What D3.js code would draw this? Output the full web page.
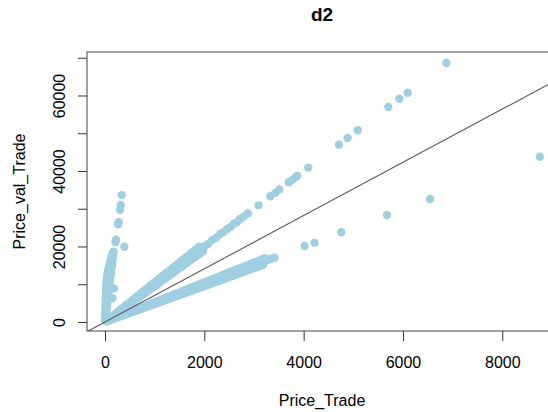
<!DOCTYPE html>
<html lang="en">
<head>
  <meta charset="UTF-8">
  <title>d2</title>
  <script src="https://d3js.org/d3.v7.min.js"></script>
  <style>
    body { margin: 0; background: #fff; }
    svg { display: block; }
    text { font-family: "Liberation Sans", Arial, Helvetica, sans-serif; fill: #000; }
    .tick line { stroke: #333; }
  </style>
</head>
<body>
  <svg width="548" height="412"></svg>

  <script>
    // steep branch (Price_val ~ 100x Price)
    let steepPts = [
      [3, 300], [8, 900], [14, 1500], [19, 2100], [25, 2700], [30, 3300], [35, 3900],
      [41, 4500], [46, 5100], [52, 5700], [57, 6300], [63, 6900], [68, 7500], [74, 8100],
      [79, 8700], [85, 9300], [90, 9900], [95, 10500], [101, 11100], [106, 11700],
      [112, 12300], [117, 12900], [123, 13500], [128, 14100], [134, 14700], [139, 15300],
      [145, 15900], [150, 16500], [155, 17100], [161, 17700], [166, 18300], [170, 18600],
      [2, 750], [4, 1500], [6, 2250], [8, 3000], [10, 3750], [12, 4500], [14, 5250],
      [16, 6000], [18, 6750], [20, 7500], [22, 8250], [25, 9000], [28, 9750], [32, 10500],
      [36, 11250], [42, 12000], [50, 12750], [60, 13500], [72, 14250], [86, 15000],
      [100, 15750], [115, 16500], [130, 17250], [148, 18000],
      [150, 6300], [180, 8900],
      [212, 21100], [222, 21800], [266, 25900], [274, 26400], [302, 29700], [316, 31000],
      [336, 33600], [390, 19950]
    ];

    // upper branch (~10x)
    let upperPts = [
      [25, 238], [75, 713], [125, 1188], [175, 1663], [225, 2138], [275, 2613], [325, 3088],
      [375, 3563], [425, 4038], [475, 4513], [525, 4988], [575, 5463], [625, 5938],
      [675, 6413], [725, 6888], [775, 7363], [825, 7838], [875, 8313], [925, 8788],
      [975, 9263], [1025, 9738], [1075, 10213], [1125, 10688], [1175, 11163], [1225, 11638],
      [1275, 12113], [1325, 12588], [1375, 13063], [1425, 13538], [1475, 14013],
      [1525, 14488], [1575, 14963], [1625, 15438], [1675, 15913], [1725, 16388],
      [1775, 16863], [1825, 17338], [1875, 17813], [1925, 18288], [1975, 18763],
      [50, 525], [100, 1050], [150, 1575], [200, 2100], [250, 2625], [300, 3150], [350, 3675],
      [400, 4200], [450, 4725], [500, 5250], [550, 5775], [600, 6300], [650, 6825],
      [700, 7350], [750, 7875], [800, 8400], [850, 8925], [900, 9450], [950, 9975],
      [1000, 10500], [1050, 11025], [1100, 11550], [1150, 12075], [1200, 12600],
      [1250, 13125], [1300, 13650], [1350, 14175], [1400, 14700], [1450, 15225],
      [1500, 15750], [1550, 16275], [1600, 16800], [1650, 17325], [1700, 17850],
      [1750, 18375], [1800, 18900], [1850, 19425], [1900, 19950],
      [2000, 20000], [2080, 20700], [2160, 21700], [2240, 22300], [2320, 23300], [2380, 23800],
      [2460, 24600], [2530, 25200], [2600, 26100], [2660, 26500], [2720, 27300], [2790, 27900],
      [2877, 28770], [3091, 30900], [3330, 33300], [3430, 34200], [3510, 35100],
      [3700, 37000], [3770, 37600], [3840, 38400], [3870, 38700], [4093, 40900],
      [4710, 46970], [4885, 48740], [5087, 50780], [5706, 56950], [5927, 59150],
      [6095, 60740], [6875, 68610]
    ];

    // lower branch (~5x)
    let lowerPts = [
      [35, 166], [105, 499], [175, 831], [245, 1164], [315, 1496], [385, 1829], [455, 2161],
      [525, 2494], [595, 2826], [665, 3159], [735, 3491], [805, 3824], [875, 4156],
      [945, 4489], [1015, 4821], [1085, 5154], [1155, 5486], [1225, 5819], [1295, 6151],
      [1365, 6484], [1435, 6816], [1505, 7149], [1575, 7481], [1645, 7814], [1715, 8146],
      [1785, 8479], [1855, 8811], [1925, 9144], [1995, 9476], [2065, 9809], [2135, 10141],
      [2205, 10474], [2275, 10806], [2345, 11139], [2415, 11471], [2485, 11804],
      [2555, 12136], [2625, 12469], [2695, 12801], [2765, 13134], [2835, 13466],
      [2905, 13799], [2975, 14131], [3045, 14464], [3115, 14796], [3185, 15129],
      [70, 368], [140, 735], [210, 1103], [280, 1470], [350, 1838], [420, 2205], [490, 2573],
      [560, 2940], [630, 3308], [700, 3675], [770, 4043], [840, 4410], [910, 4778],
      [980, 5145], [1050, 5513], [1120, 5880], [1190, 6248], [1260, 6615], [1330, 6983],
      [1400, 7350], [1470, 7718], [1540, 8085], [1610, 8453], [1680, 8820], [1750, 9188],
      [1820, 9555], [1890, 9923], [1960, 10290], [2030, 10658], [2100, 11025],
      [2170, 11393], [2240, 11760], [2310, 12128], [2380, 12495], [2450, 12863],
      [2520, 13230], [2590, 13598], [2660, 13965], [2730, 14333], [2800, 14700],
      [2870, 15068], [2940, 15435], [3010, 15803], [3080, 16170], [3150, 16538],
      [3220, 16905], [3280, 16400], [3340, 16750],
      [3414, 17030], [4018, 20130], [4220, 21010], [4758, 23760], [5679, 28340],
      [6546, 32580], [8756, 43790]
    ];

    let xTicks = [0, 2000, 4000, 6000, 8000];
    let yTicks = [0, 10000, 20000, 30000, 40000, 50000, 60000, 70000];
    let yLabelled = [0, 20000, 40000, 60000];
    let refLine = [0, 7.05]; // intercept, slope

    let svg = d3.select("svg");
    let pLeft = 87, pRight = 557, pTop = 52, pBottom = 331;
    let dotColor = "#9fcfe1";

    let x = d3.scaleLinear().domain([-363, 9102]).range([pLeft, pRight]);
    let y = d3.scaleLinear().domain([-2390, 71520]).range([pBottom, pTop]);

    svg.append("clipPath").attr("id", "plotclip")
      .append("rect")
      .attr("x", pLeft).attr("y", pTop)
      .attr("width", pRight - pLeft).attr("height", pBottom - pTop);

    let plot = svg.append("g").attr("clip-path", "url(#plotclip)");

    let allPts = steepPts.concat(upperPts, lowerPts);
    plot.selectAll("circle")
      .data(allPts)
      .join("circle")
      .attr("cx", d => x(d[0]))
      .attr("cy", d => y(d[1]))
      .attr("r", 4.2)
      .attr("fill", dotColor);

    // reference line
    let xd = x.domain();
    plot.append("line")
      .attr("x1", x(xd[0])).attr("y1", y(refLine[0] + refLine[1] * xd[0]))
      .attr("x2", x(xd[1])).attr("y2", y(refLine[0] + refLine[1] * xd[1]))
      .attr("stroke", "#5a5a5a")
      .attr("stroke-width", 1.1);

    // box
    svg.append("rect")
      .attr("x", pLeft).attr("y", pTop)
      .attr("width", pRight - pLeft).attr("height", pBottom - pTop)
      .attr("fill", "none")
      .attr("stroke", "#444")
      .attr("stroke-width", 1);

    // x axis
    let gx = svg.append("g")
      .attr("transform", "translate(0," + pBottom + ")")
      .call(d3.axisBottom(x).tickValues(xTicks).tickSize(10).tickSizeOuter(0)
        .tickPadding(16).tickFormat(d3.format("d")));
    gx.select(".domain").remove();
    gx.selectAll("text").attr("font-size", 16).style("font-family", null);

    // y axis, labels parallel to axis
    let gy = svg.append("g")
      .attr("transform", "translate(" + pLeft + ",0)")
      .call(d3.axisLeft(y).tickValues(yTicks).tickSize(9).tickSizeOuter(0)
        .tickFormat(d => yLabelled.includes(d) ? d : ""));
    gy.select(".domain").remove();
    gy.selectAll("text")
      .attr("font-size", 16)
      .style("font-family", null)
      .attr("x", 0)
      .attr("y", -22)
      .attr("dy", 0)
      .attr("text-anchor", "middle")
      .attr("transform", "rotate(-90)");

    // titles
    svg.append("text")
      .attr("x", (pLeft + pRight) / 2).attr("y", 21)
      .attr("text-anchor", "middle")
      .attr("font-size", 19)
      .attr("font-weight", "bold")
      .text("d2");

    svg.append("text")
      .attr("x", (pLeft + pRight) / 2).attr("y", 406)
      .attr("text-anchor", "middle")
      .attr("font-size", 16)
      .text("Price_Trade");

    svg.append("text")
      .attr("transform", "translate(25," + (pTop + pBottom) / 2 + ") rotate(-90)")
      .attr("text-anchor", "middle")
      .attr("font-size", 16)
      .text("Price_val_Trade");
  </script>
</body>
</html>
